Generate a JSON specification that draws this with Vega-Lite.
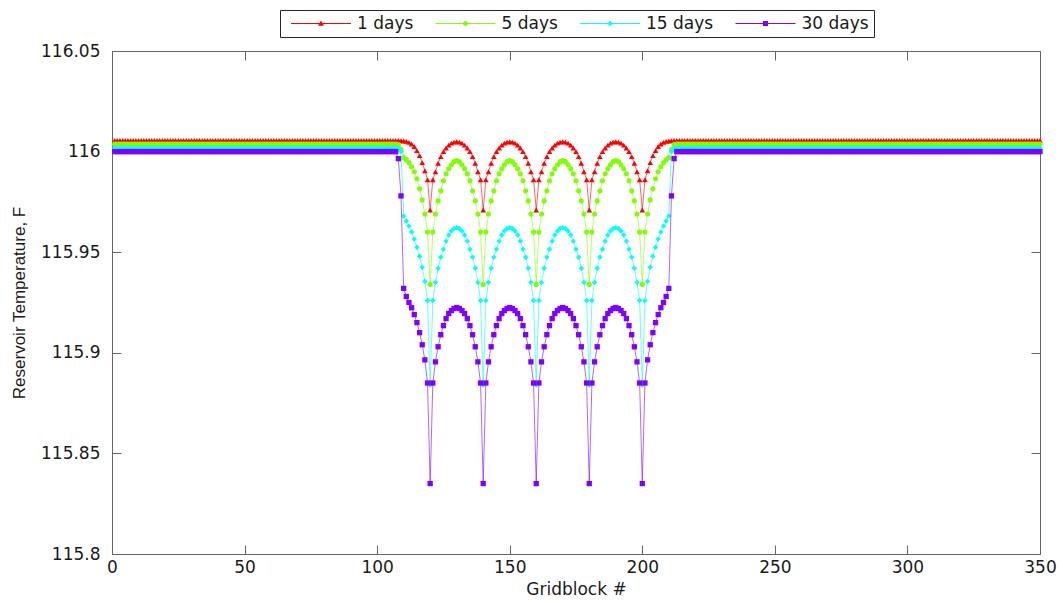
{"$schema":"https://vega.github.io/schema/vega-lite/v6.json","width":928,"height":503,"autosize":{"type":"none"},"padding":{"left":112,"top":51,"right":23,"bottom":49},"background":"#ffffff",
"config":{"view":{"stroke":"#666666","strokeWidth":1},"font":"DejaVu Sans","axis":{"grid":false,"domainColor":"#666666","tickColor":"#666666","tickSize":-9,"labelFont":"DejaVu Sans","labelFontSize":17,"labelColor":"#1a1a1a","titleFont":"DejaVu Sans","titleFontSize":17,"titleFontWeight":"normal","titleColor":"#1a1a1a","labelFlush":false,"labelOverlap":false}},
"data":{"values":[
{"g":1,"a":116.0055,"b":116.0037,"c":116.0018,"d":116},{"g":2,"a":116.0055,"b":116.0037,"c":116.0018,"d":116},{"g":3,"a":116.0055,"b":116.0037,"c":116.0018,"d":116},{"g":4,"a":116.0055,"b":116.0037,"c":116.0018,"d":116},{"g":5,"a":116.0055,"b":116.0037,"c":116.0018,"d":116},{"g":6,"a":116.0055,"b":116.0037,"c":116.0018,"d":116},{"g":7,"a":116.0055,"b":116.0037,"c":116.0018,"d":116},{"g":8,"a":116.0055,"b":116.0037,"c":116.0018,"d":116},{"g":9,"a":116.0055,"b":116.0037,"c":116.0018,"d":116},{"g":10,"a":116.0055,"b":116.0037,"c":116.0018,"d":116},
{"g":11,"a":116.0055,"b":116.0037,"c":116.0018,"d":116},{"g":12,"a":116.0055,"b":116.0037,"c":116.0018,"d":116},{"g":13,"a":116.0055,"b":116.0037,"c":116.0018,"d":116},{"g":14,"a":116.0055,"b":116.0037,"c":116.0018,"d":116},{"g":15,"a":116.0055,"b":116.0037,"c":116.0018,"d":116},{"g":16,"a":116.0055,"b":116.0037,"c":116.0018,"d":116},{"g":17,"a":116.0055,"b":116.0037,"c":116.0018,"d":116},{"g":18,"a":116.0055,"b":116.0037,"c":116.0018,"d":116},{"g":19,"a":116.0055,"b":116.0037,"c":116.0018,"d":116},{"g":20,"a":116.0055,"b":116.0037,"c":116.0018,"d":116},
{"g":21,"a":116.0055,"b":116.0037,"c":116.0018,"d":116},{"g":22,"a":116.0055,"b":116.0037,"c":116.0018,"d":116},{"g":23,"a":116.0055,"b":116.0037,"c":116.0018,"d":116},{"g":24,"a":116.0055,"b":116.0037,"c":116.0018,"d":116},{"g":25,"a":116.0055,"b":116.0037,"c":116.0018,"d":116},{"g":26,"a":116.0055,"b":116.0037,"c":116.0018,"d":116},{"g":27,"a":116.0055,"b":116.0037,"c":116.0018,"d":116},{"g":28,"a":116.0055,"b":116.0037,"c":116.0018,"d":116},{"g":29,"a":116.0055,"b":116.0037,"c":116.0018,"d":116},{"g":30,"a":116.0055,"b":116.0037,"c":116.0018,"d":116},
{"g":31,"a":116.0055,"b":116.0037,"c":116.0018,"d":116},{"g":32,"a":116.0055,"b":116.0037,"c":116.0018,"d":116},{"g":33,"a":116.0055,"b":116.0037,"c":116.0018,"d":116},{"g":34,"a":116.0055,"b":116.0037,"c":116.0018,"d":116},{"g":35,"a":116.0055,"b":116.0037,"c":116.0018,"d":116},{"g":36,"a":116.0055,"b":116.0037,"c":116.0018,"d":116},{"g":37,"a":116.0055,"b":116.0037,"c":116.0018,"d":116},{"g":38,"a":116.0055,"b":116.0037,"c":116.0018,"d":116},{"g":39,"a":116.0055,"b":116.0037,"c":116.0018,"d":116},{"g":40,"a":116.0055,"b":116.0037,"c":116.0018,"d":116},
{"g":41,"a":116.0055,"b":116.0037,"c":116.0018,"d":116},{"g":42,"a":116.0055,"b":116.0037,"c":116.0018,"d":116},{"g":43,"a":116.0055,"b":116.0037,"c":116.0018,"d":116},{"g":44,"a":116.0055,"b":116.0037,"c":116.0018,"d":116},{"g":45,"a":116.0055,"b":116.0037,"c":116.0018,"d":116},{"g":46,"a":116.0055,"b":116.0037,"c":116.0018,"d":116},{"g":47,"a":116.0055,"b":116.0037,"c":116.0018,"d":116},{"g":48,"a":116.0055,"b":116.0037,"c":116.0018,"d":116},{"g":49,"a":116.0055,"b":116.0037,"c":116.0018,"d":116},{"g":50,"a":116.0055,"b":116.0037,"c":116.0018,"d":116},
{"g":51,"a":116.0055,"b":116.0037,"c":116.0018,"d":116},{"g":52,"a":116.0055,"b":116.0037,"c":116.0018,"d":116},{"g":53,"a":116.0055,"b":116.0037,"c":116.0018,"d":116},{"g":54,"a":116.0055,"b":116.0037,"c":116.0018,"d":116},{"g":55,"a":116.0055,"b":116.0037,"c":116.0018,"d":116},{"g":56,"a":116.0055,"b":116.0037,"c":116.0018,"d":116},{"g":57,"a":116.0055,"b":116.0037,"c":116.0018,"d":116},{"g":58,"a":116.0055,"b":116.0037,"c":116.0018,"d":116},{"g":59,"a":116.0055,"b":116.0037,"c":116.0018,"d":116},{"g":60,"a":116.0055,"b":116.0037,"c":116.0018,"d":116},
{"g":61,"a":116.0055,"b":116.0037,"c":116.0018,"d":116},{"g":62,"a":116.0055,"b":116.0037,"c":116.0018,"d":116},{"g":63,"a":116.0055,"b":116.0037,"c":116.0018,"d":116},{"g":64,"a":116.0055,"b":116.0037,"c":116.0018,"d":116},{"g":65,"a":116.0055,"b":116.0037,"c":116.0018,"d":116},{"g":66,"a":116.0055,"b":116.0037,"c":116.0018,"d":116},{"g":67,"a":116.0055,"b":116.0037,"c":116.0018,"d":116},{"g":68,"a":116.0055,"b":116.0037,"c":116.0018,"d":116},{"g":69,"a":116.0055,"b":116.0037,"c":116.0018,"d":116},{"g":70,"a":116.0055,"b":116.0037,"c":116.0018,"d":116},
{"g":71,"a":116.0055,"b":116.0037,"c":116.0018,"d":116},{"g":72,"a":116.0055,"b":116.0037,"c":116.0018,"d":116},{"g":73,"a":116.0055,"b":116.0037,"c":116.0018,"d":116},{"g":74,"a":116.0055,"b":116.0037,"c":116.0018,"d":116},{"g":75,"a":116.0055,"b":116.0037,"c":116.0018,"d":116},{"g":76,"a":116.0055,"b":116.0037,"c":116.0018,"d":116},{"g":77,"a":116.0055,"b":116.0037,"c":116.0018,"d":116},{"g":78,"a":116.0055,"b":116.0037,"c":116.0018,"d":116},{"g":79,"a":116.0055,"b":116.0037,"c":116.0018,"d":116},{"g":80,"a":116.0055,"b":116.0037,"c":116.0018,"d":116},
{"g":81,"a":116.0055,"b":116.0037,"c":116.0018,"d":116},{"g":82,"a":116.0055,"b":116.0037,"c":116.0018,"d":116},{"g":83,"a":116.0055,"b":116.0037,"c":116.0018,"d":116},{"g":84,"a":116.0055,"b":116.0037,"c":116.0018,"d":116},{"g":85,"a":116.0055,"b":116.0037,"c":116.0018,"d":116},{"g":86,"a":116.0055,"b":116.0037,"c":116.0018,"d":116},{"g":87,"a":116.0055,"b":116.0037,"c":116.0018,"d":116},{"g":88,"a":116.0055,"b":116.0037,"c":116.0018,"d":116},{"g":89,"a":116.0055,"b":116.0037,"c":116.0018,"d":116},{"g":90,"a":116.0055,"b":116.0037,"c":116.0018,"d":116},
{"g":91,"a":116.0055,"b":116.0037,"c":116.0018,"d":116},{"g":92,"a":116.0055,"b":116.0037,"c":116.0018,"d":116},{"g":93,"a":116.0055,"b":116.0037,"c":116.0018,"d":116},{"g":94,"a":116.0055,"b":116.0037,"c":116.0018,"d":116},{"g":95,"a":116.0055,"b":116.0037,"c":116.0018,"d":116},{"g":96,"a":116.0055,"b":116.0037,"c":116.0018,"d":116},{"g":97,"a":116.0055,"b":116.0037,"c":116.0018,"d":116},{"g":98,"a":116.0055,"b":116.0037,"c":116.0018,"d":116},{"g":99,"a":116.0055,"b":116.0037,"c":116.0018,"d":116},{"g":100,"a":116.0055,"b":116.0037,"c":116.0018,"d":116},
{"g":101,"a":116.0055,"b":116.0037,"c":116.0018,"d":116},{"g":102,"a":116.0055,"b":116.0037,"c":116.0018,"d":116},{"g":103,"a":116.0055,"b":116.0037,"c":116.0018,"d":116},{"g":104,"a":116.0055,"b":116.0037,"c":116.0018,"d":116},{"g":105,"a":116.0055,"b":116.0037,"c":116.0018,"d":116},{"g":106,"a":116.0055,"b":116.0037,"c":116.0018,"d":116},{"g":107,"a":116.0055,"b":116.0037,"c":116.0018,"d":116},
{"g":108,"a":116.0055,"b":116.0035,"c":116.0015,"d":115.9965},{"g":109,"a":116.0054,"b":116.001,"c":116,"d":115.978},
{"g":110,"a":116.0053,"b":115.997,"c":115.968,"d":115.932},{"g":111,"a":116.0051,"b":115.996,"c":115.9655,"d":115.928},{"g":112,"a":116.0046,"b":115.9945,"c":115.963,"d":115.925},{"g":113,"a":116.0038,"b":115.9925,"c":115.96,"d":115.9224},{"g":114,"a":116.0025,"b":115.99,"c":115.9565,"d":115.919},{"g":115,"a":116.0005,"b":115.9865,"c":115.9525,"d":115.915},{"g":116,"a":115.998,"b":115.9815,"c":115.948,"d":115.91},{"g":117,"a":115.9945,"b":115.976,"c":115.9425,"d":115.904},{"g":118,"a":115.9905,"b":115.969,"c":115.9355,"d":115.8965},{"g":119,"a":115.986,"b":115.96,"c":115.926,"d":115.885},
{"g":120,"a":115.971,"b":115.934,"c":115.884,"d":115.835},{"g":121,"a":115.986,"b":115.96,"c":115.926,"d":115.885},{"g":122,"a":115.99,"b":115.969,"c":115.935,"d":115.8955},{"g":123,"a":115.9942,"b":115.9755,"c":115.942,"d":115.903},{"g":124,"a":115.9975,"b":115.9805,"c":115.9475,"d":115.909},{"g":125,"a":116,"b":115.9855,"c":115.9515,"d":115.9135},{"g":126,"a":116.0018,"b":115.989,"c":115.9555,"d":115.917},{"g":127,"a":116.0032,"b":115.9915,"c":115.9585,"d":115.9195},{"g":128,"a":116.0042,"b":115.9935,"c":115.9605,"d":115.921},{"g":129,"a":116.0047,"b":115.995,"c":115.9618,"d":115.922},
{"g":130,"a":116.0049,"b":115.9955,"c":115.9622,"d":115.9225},{"g":131,"a":116.0047,"b":115.995,"c":115.9618,"d":115.922},{"g":132,"a":116.0042,"b":115.9935,"c":115.9605,"d":115.921},{"g":133,"a":116.0032,"b":115.9915,"c":115.9585,"d":115.9195},{"g":134,"a":116.0018,"b":115.989,"c":115.9555,"d":115.917},{"g":135,"a":116,"b":115.9855,"c":115.9515,"d":115.9135},{"g":136,"a":115.9975,"b":115.9805,"c":115.9475,"d":115.909},{"g":137,"a":115.9942,"b":115.9755,"c":115.942,"d":115.903},{"g":138,"a":115.99,"b":115.969,"c":115.935,"d":115.8955},{"g":139,"a":115.986,"b":115.96,"c":115.926,"d":115.885},
{"g":140,"a":115.971,"b":115.934,"c":115.884,"d":115.835},{"g":141,"a":115.986,"b":115.96,"c":115.926,"d":115.885},{"g":142,"a":115.99,"b":115.969,"c":115.935,"d":115.8955},{"g":143,"a":115.9942,"b":115.9755,"c":115.942,"d":115.903},{"g":144,"a":115.9975,"b":115.9805,"c":115.9475,"d":115.909},{"g":145,"a":116,"b":115.9855,"c":115.9515,"d":115.9135},{"g":146,"a":116.0018,"b":115.989,"c":115.9555,"d":115.917},{"g":147,"a":116.0032,"b":115.9915,"c":115.9585,"d":115.9195},{"g":148,"a":116.0042,"b":115.9935,"c":115.9605,"d":115.921},{"g":149,"a":116.0047,"b":115.995,"c":115.9618,"d":115.922},
{"g":150,"a":116.0049,"b":115.9955,"c":115.9622,"d":115.9225},{"g":151,"a":116.0047,"b":115.995,"c":115.9618,"d":115.922},{"g":152,"a":116.0042,"b":115.9935,"c":115.9605,"d":115.921},{"g":153,"a":116.0032,"b":115.9915,"c":115.9585,"d":115.9195},{"g":154,"a":116.0018,"b":115.989,"c":115.9555,"d":115.917},{"g":155,"a":116,"b":115.9855,"c":115.9515,"d":115.9135},{"g":156,"a":115.9975,"b":115.9805,"c":115.9475,"d":115.909},{"g":157,"a":115.9942,"b":115.9755,"c":115.942,"d":115.903},{"g":158,"a":115.99,"b":115.969,"c":115.935,"d":115.8955},{"g":159,"a":115.986,"b":115.96,"c":115.926,"d":115.885},
{"g":160,"a":115.971,"b":115.934,"c":115.884,"d":115.835},{"g":161,"a":115.986,"b":115.96,"c":115.926,"d":115.885},{"g":162,"a":115.99,"b":115.969,"c":115.935,"d":115.8955},{"g":163,"a":115.9942,"b":115.9755,"c":115.942,"d":115.903},{"g":164,"a":115.9975,"b":115.9805,"c":115.9475,"d":115.909},{"g":165,"a":116,"b":115.9855,"c":115.9515,"d":115.9135},{"g":166,"a":116.0018,"b":115.989,"c":115.9555,"d":115.917},{"g":167,"a":116.0032,"b":115.9915,"c":115.9585,"d":115.9195},{"g":168,"a":116.0042,"b":115.9935,"c":115.9605,"d":115.921},{"g":169,"a":116.0047,"b":115.995,"c":115.9618,"d":115.922},
{"g":170,"a":116.0049,"b":115.9955,"c":115.9622,"d":115.9225},{"g":171,"a":116.0047,"b":115.995,"c":115.9618,"d":115.922},{"g":172,"a":116.0042,"b":115.9935,"c":115.9605,"d":115.921},{"g":173,"a":116.0032,"b":115.9915,"c":115.9585,"d":115.9195},{"g":174,"a":116.0018,"b":115.989,"c":115.9555,"d":115.917},{"g":175,"a":116,"b":115.9855,"c":115.9515,"d":115.9135},{"g":176,"a":115.9975,"b":115.9805,"c":115.9475,"d":115.909},{"g":177,"a":115.9942,"b":115.9755,"c":115.942,"d":115.903},{"g":178,"a":115.99,"b":115.969,"c":115.935,"d":115.8955},{"g":179,"a":115.986,"b":115.96,"c":115.926,"d":115.885},
{"g":180,"a":115.971,"b":115.934,"c":115.884,"d":115.835},{"g":181,"a":115.986,"b":115.96,"c":115.926,"d":115.885},{"g":182,"a":115.99,"b":115.969,"c":115.935,"d":115.8955},{"g":183,"a":115.9942,"b":115.9755,"c":115.942,"d":115.903},{"g":184,"a":115.9975,"b":115.9805,"c":115.9475,"d":115.909},{"g":185,"a":116,"b":115.9855,"c":115.9515,"d":115.9135},{"g":186,"a":116.0018,"b":115.989,"c":115.9555,"d":115.917},{"g":187,"a":116.0032,"b":115.9915,"c":115.9585,"d":115.9195},{"g":188,"a":116.0042,"b":115.9935,"c":115.9605,"d":115.921},{"g":189,"a":116.0047,"b":115.995,"c":115.9618,"d":115.922},
{"g":190,"a":116.0049,"b":115.9955,"c":115.9622,"d":115.9225},{"g":191,"a":116.0047,"b":115.995,"c":115.9618,"d":115.922},{"g":192,"a":116.0042,"b":115.9935,"c":115.9605,"d":115.921},{"g":193,"a":116.0032,"b":115.9915,"c":115.9585,"d":115.9195},{"g":194,"a":116.0018,"b":115.989,"c":115.9555,"d":115.917},{"g":195,"a":116,"b":115.9855,"c":115.9515,"d":115.9135},{"g":196,"a":115.9975,"b":115.9805,"c":115.9475,"d":115.909},{"g":197,"a":115.9942,"b":115.9755,"c":115.942,"d":115.903},{"g":198,"a":115.99,"b":115.969,"c":115.935,"d":115.8955},{"g":199,"a":115.986,"b":115.96,"c":115.926,"d":115.885},
{"g":200,"a":115.971,"b":115.934,"c":115.884,"d":115.835},
{"g":201,"a":115.986,"b":115.96,"c":115.926,"d":115.885},{"g":202,"a":115.9905,"b":115.969,"c":115.9355,"d":115.8965},{"g":203,"a":115.9945,"b":115.976,"c":115.9425,"d":115.904},{"g":204,"a":115.998,"b":115.9815,"c":115.948,"d":115.91},{"g":205,"a":116.0005,"b":115.9865,"c":115.9525,"d":115.915},{"g":206,"a":116.0025,"b":115.99,"c":115.9565,"d":115.919},{"g":207,"a":116.0038,"b":115.9925,"c":115.96,"d":115.9224},{"g":208,"a":116.0046,"b":115.9945,"c":115.963,"d":115.925},{"g":209,"a":116.0051,"b":115.996,"c":115.9655,"d":115.928},{"g":210,"a":116.0053,"b":115.997,"c":115.968,"d":115.932},
{"g":211,"a":116.0054,"b":116.001,"c":116,"d":115.978},{"g":212,"a":116.0055,"b":116.0035,"c":116.0015,"d":115.9965},
{"g":213,"a":116.0055,"b":116.0037,"c":116.0018,"d":116},{"g":214,"a":116.0055,"b":116.0037,"c":116.0018,"d":116},{"g":215,"a":116.0055,"b":116.0037,"c":116.0018,"d":116},{"g":216,"a":116.0055,"b":116.0037,"c":116.0018,"d":116},{"g":217,"a":116.0055,"b":116.0037,"c":116.0018,"d":116},{"g":218,"a":116.0055,"b":116.0037,"c":116.0018,"d":116},{"g":219,"a":116.0055,"b":116.0037,"c":116.0018,"d":116},{"g":220,"a":116.0055,"b":116.0037,"c":116.0018,"d":116},
{"g":221,"a":116.0055,"b":116.0037,"c":116.0018,"d":116},{"g":222,"a":116.0055,"b":116.0037,"c":116.0018,"d":116},{"g":223,"a":116.0055,"b":116.0037,"c":116.0018,"d":116},{"g":224,"a":116.0055,"b":116.0037,"c":116.0018,"d":116},{"g":225,"a":116.0055,"b":116.0037,"c":116.0018,"d":116},{"g":226,"a":116.0055,"b":116.0037,"c":116.0018,"d":116},{"g":227,"a":116.0055,"b":116.0037,"c":116.0018,"d":116},{"g":228,"a":116.0055,"b":116.0037,"c":116.0018,"d":116},{"g":229,"a":116.0055,"b":116.0037,"c":116.0018,"d":116},{"g":230,"a":116.0055,"b":116.0037,"c":116.0018,"d":116},
{"g":231,"a":116.0055,"b":116.0037,"c":116.0018,"d":116},{"g":232,"a":116.0055,"b":116.0037,"c":116.0018,"d":116},{"g":233,"a":116.0055,"b":116.0037,"c":116.0018,"d":116},{"g":234,"a":116.0055,"b":116.0037,"c":116.0018,"d":116},{"g":235,"a":116.0055,"b":116.0037,"c":116.0018,"d":116},{"g":236,"a":116.0055,"b":116.0037,"c":116.0018,"d":116},{"g":237,"a":116.0055,"b":116.0037,"c":116.0018,"d":116},{"g":238,"a":116.0055,"b":116.0037,"c":116.0018,"d":116},{"g":239,"a":116.0055,"b":116.0037,"c":116.0018,"d":116},{"g":240,"a":116.0055,"b":116.0037,"c":116.0018,"d":116},
{"g":241,"a":116.0055,"b":116.0037,"c":116.0018,"d":116},{"g":242,"a":116.0055,"b":116.0037,"c":116.0018,"d":116},{"g":243,"a":116.0055,"b":116.0037,"c":116.0018,"d":116},{"g":244,"a":116.0055,"b":116.0037,"c":116.0018,"d":116},{"g":245,"a":116.0055,"b":116.0037,"c":116.0018,"d":116},{"g":246,"a":116.0055,"b":116.0037,"c":116.0018,"d":116},{"g":247,"a":116.0055,"b":116.0037,"c":116.0018,"d":116},{"g":248,"a":116.0055,"b":116.0037,"c":116.0018,"d":116},{"g":249,"a":116.0055,"b":116.0037,"c":116.0018,"d":116},{"g":250,"a":116.0055,"b":116.0037,"c":116.0018,"d":116},
{"g":251,"a":116.0055,"b":116.0037,"c":116.0018,"d":116},{"g":252,"a":116.0055,"b":116.0037,"c":116.0018,"d":116},{"g":253,"a":116.0055,"b":116.0037,"c":116.0018,"d":116},{"g":254,"a":116.0055,"b":116.0037,"c":116.0018,"d":116},{"g":255,"a":116.0055,"b":116.0037,"c":116.0018,"d":116},{"g":256,"a":116.0055,"b":116.0037,"c":116.0018,"d":116},{"g":257,"a":116.0055,"b":116.0037,"c":116.0018,"d":116},{"g":258,"a":116.0055,"b":116.0037,"c":116.0018,"d":116},{"g":259,"a":116.0055,"b":116.0037,"c":116.0018,"d":116},{"g":260,"a":116.0055,"b":116.0037,"c":116.0018,"d":116},
{"g":261,"a":116.0055,"b":116.0037,"c":116.0018,"d":116},{"g":262,"a":116.0055,"b":116.0037,"c":116.0018,"d":116},{"g":263,"a":116.0055,"b":116.0037,"c":116.0018,"d":116},{"g":264,"a":116.0055,"b":116.0037,"c":116.0018,"d":116},{"g":265,"a":116.0055,"b":116.0037,"c":116.0018,"d":116},{"g":266,"a":116.0055,"b":116.0037,"c":116.0018,"d":116},{"g":267,"a":116.0055,"b":116.0037,"c":116.0018,"d":116},{"g":268,"a":116.0055,"b":116.0037,"c":116.0018,"d":116},{"g":269,"a":116.0055,"b":116.0037,"c":116.0018,"d":116},{"g":270,"a":116.0055,"b":116.0037,"c":116.0018,"d":116},
{"g":271,"a":116.0055,"b":116.0037,"c":116.0018,"d":116},{"g":272,"a":116.0055,"b":116.0037,"c":116.0018,"d":116},{"g":273,"a":116.0055,"b":116.0037,"c":116.0018,"d":116},{"g":274,"a":116.0055,"b":116.0037,"c":116.0018,"d":116},{"g":275,"a":116.0055,"b":116.0037,"c":116.0018,"d":116},{"g":276,"a":116.0055,"b":116.0037,"c":116.0018,"d":116},{"g":277,"a":116.0055,"b":116.0037,"c":116.0018,"d":116},{"g":278,"a":116.0055,"b":116.0037,"c":116.0018,"d":116},{"g":279,"a":116.0055,"b":116.0037,"c":116.0018,"d":116},{"g":280,"a":116.0055,"b":116.0037,"c":116.0018,"d":116},
{"g":281,"a":116.0055,"b":116.0037,"c":116.0018,"d":116},{"g":282,"a":116.0055,"b":116.0037,"c":116.0018,"d":116},{"g":283,"a":116.0055,"b":116.0037,"c":116.0018,"d":116},{"g":284,"a":116.0055,"b":116.0037,"c":116.0018,"d":116},{"g":285,"a":116.0055,"b":116.0037,"c":116.0018,"d":116},{"g":286,"a":116.0055,"b":116.0037,"c":116.0018,"d":116},{"g":287,"a":116.0055,"b":116.0037,"c":116.0018,"d":116},{"g":288,"a":116.0055,"b":116.0037,"c":116.0018,"d":116},{"g":289,"a":116.0055,"b":116.0037,"c":116.0018,"d":116},{"g":290,"a":116.0055,"b":116.0037,"c":116.0018,"d":116},
{"g":291,"a":116.0055,"b":116.0037,"c":116.0018,"d":116},{"g":292,"a":116.0055,"b":116.0037,"c":116.0018,"d":116},{"g":293,"a":116.0055,"b":116.0037,"c":116.0018,"d":116},{"g":294,"a":116.0055,"b":116.0037,"c":116.0018,"d":116},{"g":295,"a":116.0055,"b":116.0037,"c":116.0018,"d":116},{"g":296,"a":116.0055,"b":116.0037,"c":116.0018,"d":116},{"g":297,"a":116.0055,"b":116.0037,"c":116.0018,"d":116},{"g":298,"a":116.0055,"b":116.0037,"c":116.0018,"d":116},{"g":299,"a":116.0055,"b":116.0037,"c":116.0018,"d":116},{"g":300,"a":116.0055,"b":116.0037,"c":116.0018,"d":116},
{"g":301,"a":116.0055,"b":116.0037,"c":116.0018,"d":116},{"g":302,"a":116.0055,"b":116.0037,"c":116.0018,"d":116},{"g":303,"a":116.0055,"b":116.0037,"c":116.0018,"d":116},{"g":304,"a":116.0055,"b":116.0037,"c":116.0018,"d":116},{"g":305,"a":116.0055,"b":116.0037,"c":116.0018,"d":116},{"g":306,"a":116.0055,"b":116.0037,"c":116.0018,"d":116},{"g":307,"a":116.0055,"b":116.0037,"c":116.0018,"d":116},{"g":308,"a":116.0055,"b":116.0037,"c":116.0018,"d":116},{"g":309,"a":116.0055,"b":116.0037,"c":116.0018,"d":116},{"g":310,"a":116.0055,"b":116.0037,"c":116.0018,"d":116},
{"g":311,"a":116.0055,"b":116.0037,"c":116.0018,"d":116},{"g":312,"a":116.0055,"b":116.0037,"c":116.0018,"d":116},{"g":313,"a":116.0055,"b":116.0037,"c":116.0018,"d":116},{"g":314,"a":116.0055,"b":116.0037,"c":116.0018,"d":116},{"g":315,"a":116.0055,"b":116.0037,"c":116.0018,"d":116},{"g":316,"a":116.0055,"b":116.0037,"c":116.0018,"d":116},{"g":317,"a":116.0055,"b":116.0037,"c":116.0018,"d":116},{"g":318,"a":116.0055,"b":116.0037,"c":116.0018,"d":116},{"g":319,"a":116.0055,"b":116.0037,"c":116.0018,"d":116},{"g":320,"a":116.0055,"b":116.0037,"c":116.0018,"d":116},
{"g":321,"a":116.0055,"b":116.0037,"c":116.0018,"d":116},{"g":322,"a":116.0055,"b":116.0037,"c":116.0018,"d":116},{"g":323,"a":116.0055,"b":116.0037,"c":116.0018,"d":116},{"g":324,"a":116.0055,"b":116.0037,"c":116.0018,"d":116},{"g":325,"a":116.0055,"b":116.0037,"c":116.0018,"d":116},{"g":326,"a":116.0055,"b":116.0037,"c":116.0018,"d":116},{"g":327,"a":116.0055,"b":116.0037,"c":116.0018,"d":116},{"g":328,"a":116.0055,"b":116.0037,"c":116.0018,"d":116},{"g":329,"a":116.0055,"b":116.0037,"c":116.0018,"d":116},{"g":330,"a":116.0055,"b":116.0037,"c":116.0018,"d":116},
{"g":331,"a":116.0055,"b":116.0037,"c":116.0018,"d":116},{"g":332,"a":116.0055,"b":116.0037,"c":116.0018,"d":116},{"g":333,"a":116.0055,"b":116.0037,"c":116.0018,"d":116},{"g":334,"a":116.0055,"b":116.0037,"c":116.0018,"d":116},{"g":335,"a":116.0055,"b":116.0037,"c":116.0018,"d":116},{"g":336,"a":116.0055,"b":116.0037,"c":116.0018,"d":116},{"g":337,"a":116.0055,"b":116.0037,"c":116.0018,"d":116},{"g":338,"a":116.0055,"b":116.0037,"c":116.0018,"d":116},{"g":339,"a":116.0055,"b":116.0037,"c":116.0018,"d":116},{"g":340,"a":116.0055,"b":116.0037,"c":116.0018,"d":116},
{"g":341,"a":116.0055,"b":116.0037,"c":116.0018,"d":116},{"g":342,"a":116.0055,"b":116.0037,"c":116.0018,"d":116},{"g":343,"a":116.0055,"b":116.0037,"c":116.0018,"d":116},{"g":344,"a":116.0055,"b":116.0037,"c":116.0018,"d":116},{"g":345,"a":116.0055,"b":116.0037,"c":116.0018,"d":116},{"g":346,"a":116.0055,"b":116.0037,"c":116.0018,"d":116},{"g":347,"a":116.0055,"b":116.0037,"c":116.0018,"d":116},{"g":348,"a":116.0055,"b":116.0037,"c":116.0018,"d":116},{"g":349,"a":116.0055,"b":116.0037,"c":116.0018,"d":116},{"g":350,"a":116.0055,"b":116.0037,"c":116.0018,"d":116}
]},
"transform":[{"fold":["a","b","c","d"],"as":["s","t"]}],
"layer":[
{"transform":[{"filter":"datum.g < 0"}],"mark":{"type":"point","filled":true,"opacity":1},
 "encoding":{
  "x":{"field":"g","type":"quantitative","scale":{"domain":[0,350],"nice":false,"zero":false},"axis":{"orient":"top","labels":false,"title":null,"values":[0,50,100,150,200,250,300,350]}},
  "y":{"field":"t","type":"quantitative","scale":{"domain":[115.8,116.05],"nice":false,"zero":false},"axis":{"orient":"right","labels":false,"title":null,"values":[115.8,115.85,115.9,115.95,116,116.05]}},
  "color":{"field":"s","type":"nominal","scale":{"domain":["a","b","c","d"],"range":["#ff0000","#80ff00","#00ffff","#8000ff"]},"legend":{"orient":"none","legendX":168,"legendY":-41,"direction":"horizontal","columns":4,"title":null,"symbolSize":3600,"symbolStrokeWidth":0,"symbolOpacity":1,"symbolOffset":6,"clipHeight":17,"labelFont":"DejaVu Sans","labelFontSize":17,"labelColor":"#1a1a1a","labelOffset":6,"columnPadding":15.5,"padding":5,"strokeColor":"#262626","fillColor":"#fff","labelExpr":"datum.label == 'a' ? '1 days' : datum.label == 'b' ? '5 days' : datum.label == 'c' ? '15 days' : '30 days'"}},
  "shape":{"field":"s","type":"nominal","scale":{"domain":["a","b","c","d"],"range":["M-1,-0.013H1V0.013H-1Z M0,-0.1L0.1,0.075L-0.1,0.075Z","M-1,-0.013H1V0.013H-1Z M0.079,0.033L0.033,0.079L-0.033,0.079L-0.079,0.033L-0.079,-0.033L-0.033,-0.079L0.033,-0.079L0.079,-0.033Z","M-1,-0.013H1V0.013H-1Z M0,-0.1L0.085,0L0,0.1L-0.085,0Z","M-1,-0.013H1V0.013H-1Z M-0.085,-0.085H0.085V0.085H-0.085Z"]},"legend":{"orient":"none","legendX":168,"legendY":-41,"direction":"horizontal","columns":4,"title":null,"symbolSize":3600,"symbolStrokeWidth":0,"symbolOpacity":1,"symbolOffset":6,"clipHeight":17,"labelFont":"DejaVu Sans","labelFontSize":17,"labelColor":"#1a1a1a","labelOffset":6,"columnPadding":15.5,"padding":5,"strokeColor":"#262626","fillColor":"#fff","labelExpr":"datum.label == 'a' ? '1 days' : datum.label == 'b' ? '5 days' : datum.label == 'c' ? '15 days' : '30 days'"}}}},
{"transform":[{"filter":"datum.s == 'a'"}],"mark":{"type":"line","color":"#ff0000","strokeWidth":1,"strokeOpacity":0.6,"point":{"shape":"triangle-up","filled":true,"size":32,"opacity":1,"color":"#ff0000"}},
 "encoding":{
  "x":{"field":"g","type":"quantitative","axis":{"values":[0,50,100,150,200,250,300,350],"title":"Gridblock #","labelPadding":14,"titlePadding":6}},
  "y":{"field":"t","type":"quantitative","axis":{"values":[115.8,115.85,115.9,115.95,116,116.05],"format":"~g","title":"Reservoir Temperature, F","titleFont":"Liberation Sans","labelPadding":21,"titlePadding":12}}}},
{"transform":[{"filter":"datum.s == 'b'"}],"mark":{"type":"line","color":"#80ff00","strokeWidth":1,"strokeOpacity":0.6,"point":{"shape":"circle","filled":true,"size":26,"opacity":1,"color":"#80ff00"}},
 "encoding":{"x":{"field":"g","type":"quantitative","axis":null},"y":{"field":"t","type":"quantitative","axis":null}}},
{"transform":[{"filter":"datum.s == 'c'"}],"mark":{"type":"line","color":"#00ffff","strokeWidth":1,"strokeOpacity":0.6,"point":{"shape":"diamond","filled":true,"size":30,"opacity":1,"color":"#00ffff"}},
 "encoding":{"x":{"field":"g","type":"quantitative","axis":null},"y":{"field":"t","type":"quantitative","axis":null}}},
{"transform":[{"filter":"datum.s == 'd'"}],"mark":{"type":"line","color":"#8000ff","strokeWidth":1,"strokeOpacity":0.6,"point":{"shape":"square","filled":true,"size":28,"opacity":1,"color":"#8000ff"}},
 "encoding":{"x":{"field":"g","type":"quantitative","axis":null},"y":{"field":"t","type":"quantitative","axis":null}}}
],
"resolve":{"axis":{"x":"independent","y":"independent"}}
}
